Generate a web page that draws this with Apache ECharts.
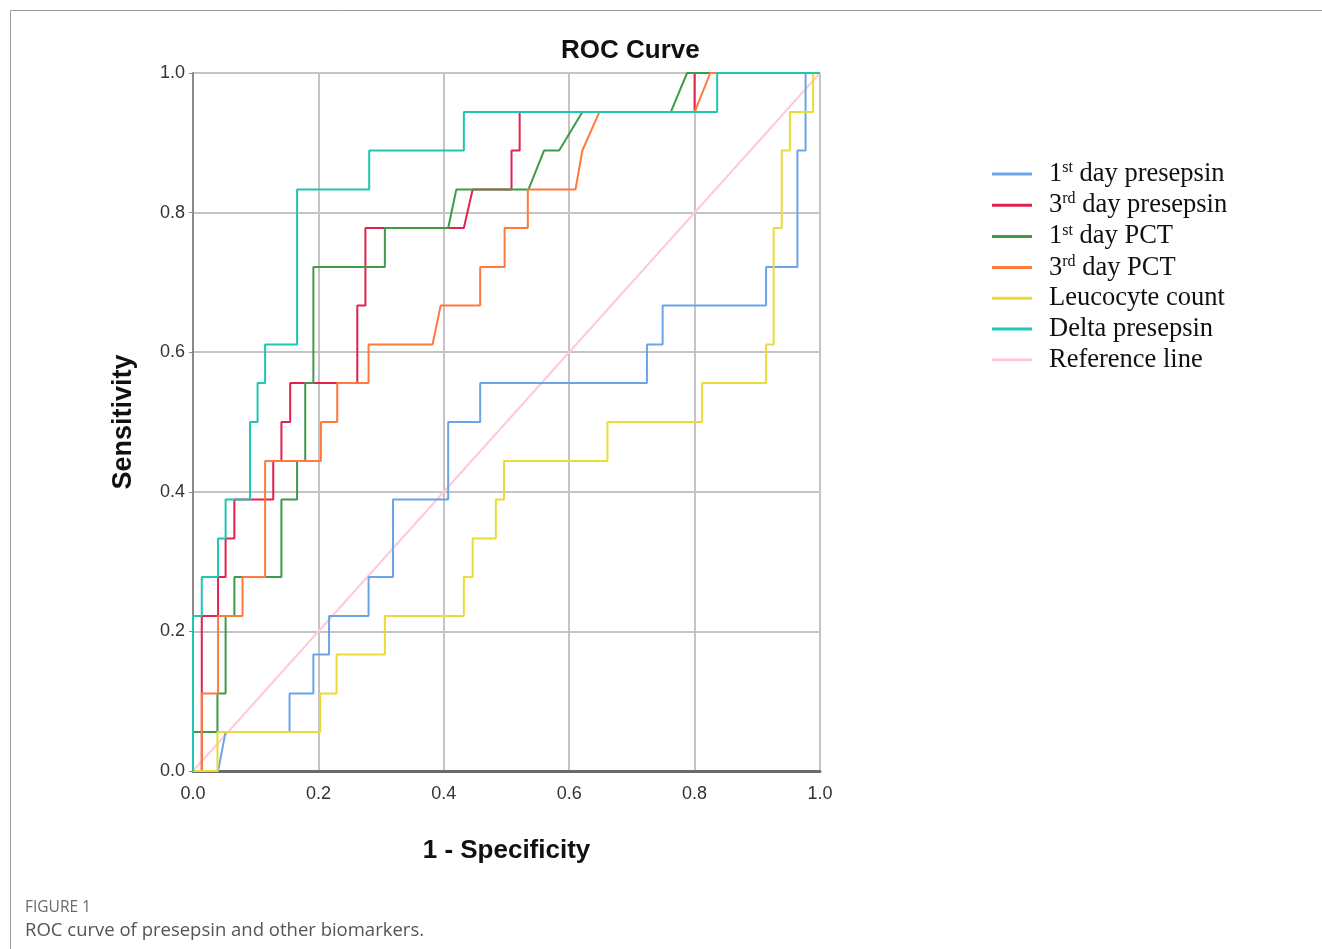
<!DOCTYPE html>
<html>
<head>
<meta charset="utf-8">
<script src="https://cdn.jsdelivr.net/npm/echarts@6/dist/echarts.min.js"></script>
<style>
  html, body { margin: 0; padding: 0; background: #fff; }
  #main { width: 1322px; height: 949px; }
</style>
</head>
<body>
<div id="main"></div>
<script>
// ROC vertices: [1 - specificity, sensitivity]
var day1Presepsin = [[0,0],[0.04,0],[0.052,0.056],[0.154,0.056],[0.154,0.111],[0.192,0.111],[0.192,0.167],[0.217,0.167],[0.217,0.222],[0.28,0.222],[0.28,0.278],[0.319,0.278],[0.319,0.389],[0.407,0.389],[0.407,0.5],[0.458,0.5],[0.458,0.556],[0.724,0.556],[0.724,0.611],[0.749,0.611],[0.749,0.667],[0.914,0.667],[0.914,0.722],[0.964,0.722],[0.964,0.889],[0.977,0.889],[0.977,1],[1,1]];
var day3Presepsin = [[0,0],[0.014,0],[0.014,0.222],[0.04,0.222],[0.04,0.278],[0.052,0.278],[0.052,0.333],[0.066,0.333],[0.066,0.389],[0.128,0.389],[0.128,0.444],[0.141,0.444],[0.141,0.5],[0.155,0.5],[0.155,0.556],[0.262,0.556],[0.262,0.667],[0.275,0.667],[0.275,0.778],[0.432,0.778],[0.446,0.833],[0.508,0.833],[0.508,0.889],[0.521,0.889],[0.521,0.944],[0.8,0.944],[0.8,1],[1,1]];
var day1PCT = [[0,0],[0,0.056],[0.039,0.056],[0.039,0.111],[0.052,0.111],[0.052,0.222],[0.066,0.222],[0.066,0.278],[0.141,0.278],[0.141,0.389],[0.166,0.389],[0.166,0.444],[0.179,0.444],[0.179,0.556],[0.192,0.556],[0.192,0.722],[0.306,0.722],[0.306,0.778],[0.407,0.778],[0.42,0.833],[0.535,0.833],[0.56,0.889],[0.584,0.889],[0.621,0.944],[0.762,0.944],[0.788,1],[1,1]];
var day3PCT = [[0,0],[0.014,0],[0.014,0.111],[0.04,0.111],[0.04,0.222],[0.079,0.222],[0.079,0.278],[0.115,0.278],[0.115,0.444],[0.204,0.444],[0.204,0.5],[0.23,0.5],[0.23,0.556],[0.28,0.556],[0.28,0.611],[0.382,0.611],[0.395,0.667],[0.458,0.667],[0.458,0.722],[0.497,0.722],[0.497,0.778],[0.534,0.778],[0.534,0.833],[0.61,0.833],[0.621,0.889],[0.648,0.944],[0.8,0.944],[0.825,1],[1,1]];
var leucocyte = [[0,0],[0.039,0],[0.039,0.056],[0.203,0.056],[0.203,0.111],[0.229,0.111],[0.229,0.167],[0.306,0.167],[0.306,0.222],[0.432,0.222],[0.432,0.278],[0.446,0.278],[0.446,0.333],[0.483,0.333],[0.483,0.389],[0.496,0.389],[0.496,0.444],[0.661,0.444],[0.661,0.5],[0.812,0.5],[0.812,0.556],[0.914,0.556],[0.914,0.611],[0.926,0.611],[0.926,0.778],[0.939,0.778],[0.939,0.889],[0.952,0.889],[0.952,0.944],[0.989,0.944],[0.989,1],[1,1]];
var deltaPresepsin = [[0,0],[0,0.222],[0.014,0.222],[0.014,0.278],[0.04,0.278],[0.04,0.333],[0.052,0.333],[0.052,0.389],[0.091,0.389],[0.091,0.5],[0.103,0.5],[0.103,0.556],[0.115,0.556],[0.115,0.611],[0.166,0.611],[0.166,0.833],[0.281,0.833],[0.281,0.889],[0.432,0.889],[0.432,0.944],[0.836,0.944],[0.836,1],[1,1]];
var referenceLine = [[0,0],[1,1]];

var seriesNames = ['1st day presepsin','3rd day presepsin','1st day PCT','3rd day PCT','Leucocyte count','Delta presepsin','Reference line'];
var seriesColors = ['#6aa5e8','#e2214f','#3f9a4c','#ff7a3d','#e9dc36','#1fc6b2','#ffcad8'];
var seriesData = [day1Presepsin, day3Presepsin, day1PCT, day3PCT, leucocyte, deltaPresepsin, referenceLine];
var axisTicks = [0, 0.2, 0.4, 0.6, 0.8, 1.0];

var myChart = echarts.init(document.getElementById('main'));

var series = [];
for (var i = 0; i < seriesData.length; i++) {
	series.push({
		name: seriesNames[i],
		type: 'line',
		data: seriesData[i],
		symbol: 'none',
		z: i == 6 ? 1 : 2,
		lineStyle: { color: seriesColors[i], width: 2 },
		itemStyle: { color: seriesColors[i] },
		animation: false
	});
}

function legendLabel(name) {
	// split "1st day ..." into number, superscript and rest
	var m = name.match(/^(\d)(st|rd)(.*)$/);
	if (m) {
		return '{a|' + m[1] + '}{sup|' + m[2] + '}{a|' + m[3] + '}';
	}
	return '{a|' + name + '}';
}

var option = {
	backgroundColor: '#fff',
	title: {
		text: 'ROC Curve',
		left: 556,
		top: 33,
		textStyle: { fontFamily: 'Liberation Sans', fontWeight: 'bold', fontSize: 26, color: '#111' }
	},
	legend: {
		orient: 'vertical',
		left: 987,
		top: 155,
		icon: 'rect',
		itemWidth: 40,
		itemHeight: 3,
		itemGap: 3.7,
		data: seriesNames,
		formatter: legendLabel,
		textStyle: {
			padding: [0, 0, 0, 12],
			rich: {
				a: { fontFamily: 'Liberation Serif', fontSize: 26.5, color: '#111', lineHeight: 28 },
				sup: { fontFamily: 'Liberation Serif', fontSize: 16, color: '#111', verticalAlign: 'top', lineHeight: 28 }
			}
		}
	},
	grid: { left: 193, right: 502, top: 73, bottom: 178 },
	xAxis: {
		type: 'value',
		min: 0, max: 1, interval: 0.2,
		name: '1 - Specificity',
		nameLocation: 'middle',
		nameGap: 67,
		nameTextStyle: { fontFamily: 'Liberation Sans', fontWeight: 'bold', fontSize: 26, color: '#111' },
		axisLine: { show: true, lineStyle: { color: '#6b6b6b', width: 3 } },
		axisTick: { show: false },
		axisLabel: {
			fontFamily: 'Liberation Sans', fontSize: 18, color: '#333', margin: 14,
			formatter: function (v) { return axisTicks.indexOf(v) >= 0 ? v.toFixed(1) : ''; }
		},
		splitLine: { show: true, lineStyle: { color: '#c4c4c4', width: 2 } }
	},
	yAxis: {
		type: 'value',
		min: 0, max: 1, interval: 0.2,
		name: 'Sensitivity',
		nameLocation: 'middle',
		nameGap: 56,
		nameTextStyle: { fontFamily: 'Liberation Sans', fontWeight: 'bold', fontSize: 27, color: '#111' },
		axisLine: { show: true, lineStyle: { color: '#8a8a8a', width: 2 } },
		axisTick: { show: true, length: 4, lineStyle: { color: '#8a8a8a' } },
		axisLabel: {
			fontFamily: 'Liberation Sans', fontSize: 18, color: '#333', margin: 8,
			padding: [5, 0, 0, 0],
			formatter: function (v) { return v.toFixed(1); }
		},
		splitLine: { show: true, lineStyle: { color: '#c4c4c4', width: 2 } }
	},
	graphic: [
		{
			type: 'polyline',
			silent: true,
			shape: { points: [[10.5, 949], [10.5, 10.5], [1322, 10.5]] },
			style: { stroke: '#9a9a9a', lineWidth: 1, fill: null }
		},
		{
			type: 'text',
			left: 25, top: 900,
			style: { text: 'FIGURE 1', font: '15.5px "Open Sans"', fill: '#6a6a6a' }
		},
		{
			type: 'text',
			left: 25, top: 921,
			style: { text: 'ROC curve of presepsin and other biomarkers.', font: '18.5px "Open Sans"', fill: '#555' }
		}
	],
	series: series
};
myChart.setOption(option);
window.addEventListener('resize', function () {
	myChart.resize();
});
</script>
</body>
</html>
